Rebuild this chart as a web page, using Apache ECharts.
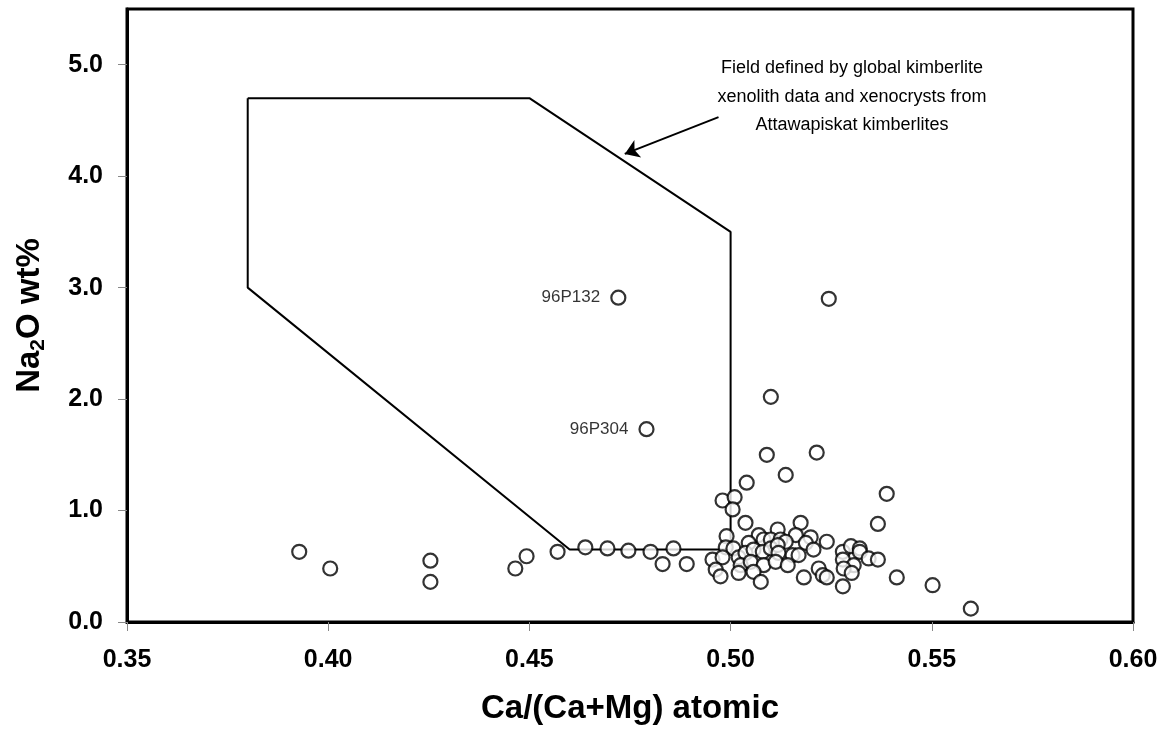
<!DOCTYPE html>
<html>
<head>
<meta charset="utf-8">
<script src="https://cdn.jsdelivr.net/npm/echarts@6/dist/echarts.min.js"></script>
<style>
  html, body { margin: 0; padding: 0; background: #fff; }
  #chart { width: 1170px; height: 738px; }
</style>
</head>
<body>
<div id="chart"></div>
<script>
// Ca/(Ca+Mg) atomic vs Na2O wt%
const caRatio = [
  0.3928, 0.4005, 0.4254, 0.4254, 0.4465, 0.4493, 0.4570, 0.4639, 0.4694, 0.4746,
  0.4801, 0.4831, 0.4858, 0.4891, 0.5244, 0.5100, 0.5090, 0.5214, 0.5137, 0.5040,
  0.5388, 0.5366, 0.4980, 0.5010, 0.5005, 0.5413, 0.5502, 0.5597, 0.5037, 0.4990,
  0.5070, 0.5117, 0.5174, 0.5162, 0.5199, 0.5239, 0.4988, 0.5007, 0.5045, 0.5082,
  0.5100, 0.5124, 0.5137, 0.5187, 0.5206, 0.4955, 0.4980, 0.5020, 0.5037, 0.5057,
  0.5080, 0.5100, 0.5117, 0.5119, 0.5154, 0.5169, 0.5025, 0.5050, 0.5082, 0.5112,
  0.5142, 0.4963, 0.4975, 0.5020, 0.5057, 0.5075, 0.5182, 0.5219, 0.5229, 0.5239,
  0.5279, 0.5299, 0.5321, 0.5321, 0.5279, 0.5306, 0.5343, 0.5366, 0.5281, 0.5301,
  0.5279
]
const na2o = [
  0.63, 0.48, 0.55, 0.36, 0.48, 0.59, 0.63, 0.67, 0.66, 0.64,
  0.63, 0.52, 0.66, 0.52, 2.90, 2.02, 1.50, 1.52, 1.32, 1.25,
  1.15, 0.88, 1.09, 1.12, 1.01, 0.40, 0.33, 0.12, 0.89, 0.77,
  0.78, 0.83, 0.89, 0.78, 0.76, 0.72, 0.67, 0.66, 0.71, 0.74,
  0.74, 0.74, 0.72, 0.71, 0.65, 0.56, 0.58, 0.58, 0.62, 0.65,
  0.63, 0.66, 0.69, 0.62, 0.60, 0.60, 0.51, 0.54, 0.51, 0.54,
  0.51, 0.47, 0.41, 0.44, 0.45, 0.36, 0.40, 0.48, 0.42, 0.40,
  0.63, 0.68, 0.66, 0.63, 0.56, 0.51, 0.57, 0.56, 0.48, 0.44,
  0.32
]
// the two named samples
const namedSamples = ['96P132', '96P304']
const namedCa = [0.4721, 0.4791]
const namedNa = [2.91, 1.73]

// kimberlite field outline
const fieldCa = [0.38, 0.45, 0.50, 0.50, 0.46, 0.38, 0.38]
const fieldNa = [4.70, 4.70, 3.50, 0.65, 0.65, 3.00, 4.70]

// arrow from the note to the field edge
const arrowCa = [0.497, 0.4737]
const arrowNa = [4.53, 4.20]

const xTicks = [0.35, 0.40, 0.45, 0.50, 0.55, 0.60]
const yTicks = [0, 1, 2, 3, 4, 5]

const fieldNote = [
  'Field defined by global kimberlite',
  'xenolith data and xenocrysts from',
  'Attawapiskat kimberlites'
]

const font = "'Liberation Sans', Arial, sans-serif"

const chart = echarts.init(document.getElementById('chart'))

const pointStyle = { color: '#fff', borderColor: '#000', borderWidth: 2.2 }

chart.setOption({
  animation: false,
  backgroundColor: '#fff',
  grid: {
    left: 127, right: 37, top: 9, bottom: 116,
    show: true, borderColor: '#000', borderWidth: 3
  },
  xAxis: {
    type: 'value', min: 0.35, max: 0.60, interval: 0.05,
    name: 'Ca/(Ca+Mg) atomic', nameLocation: 'middle', nameGap: 70,
    nameTextStyle: { fontFamily: font, fontWeight: 'bold', fontSize: 33, color: '#000' },
    axisLine: { lineStyle: { color: '#000', width: 3 } },
    axisTick: { show: true, inside: false, length: 9, lineStyle: { color: '#888', width: 1 }, customValues: xTicks },
    axisLabel: {
      customValues: xTicks, margin: 26,
      fontFamily: font, fontWeight: 'bold', fontSize: 25, color: '#000',
      formatter: v => v.toFixed(2)
    },
    splitLine: { show: false }
  },
  yAxis: {
    type: 'value', min: 0, max: 5.5, interval: 1,
    name: '{n|Na}{s|2}{n|O wt%}', nameLocation: 'middle', nameGap: 78, nameRotate: 90,
    nameTextStyle: {
      rich: {
        n: { fontFamily: font, fontWeight: 'bold', fontSize: 33, color: '#000' },
        s: { fontFamily: font, fontWeight: 'bold', fontSize: 21, color: '#000', padding: [18, 0, 0, 0] }
      }
    },
    axisLine: { lineStyle: { color: '#000', width: 3 } },
    axisTick: { show: true, inside: false, length: 9, lineStyle: { color: '#888', width: 1 }, customValues: yTicks },
    axisLabel: {
      customValues: yTicks, margin: 24,
      fontFamily: font, fontWeight: 'bold', fontSize: 25, color: '#000',
      formatter: v => v.toFixed(1)
    },
    splitLine: { show: false }
  },
  graphic: [{
    type: 'text', x: 852, y: 54,
    style: {
      text: fieldNote.join('\n'), textAlign: 'center', textVerticalAlign: 'top',
      font: '18px ' + font, lineHeight: 28.5, fill: '#000'
    }
  }],
  series: [
    {
      type: 'line',
      data: fieldCa.map((c, i) => [c, fieldNa[i]]),
      symbol: 'none',
      lineStyle: { color: '#000', width: 2 },
      z: 1
    },
    {
      type: 'lines',
      coordinateSystem: 'cartesian2d',
      data: [{ coords: arrowCa.map((c, i) => [c, arrowNa[i]]) }],
      symbol: ['none', 'arrow'], symbolSize: 14,
      lineStyle: { color: '#000', width: 2, opacity: 1 },
      z: 2
    },
    {
      type: 'scatter',
      data: caRatio.map((c, i) => [c, na2o[i]]),
      symbol: 'circle', symbolSize: 14,
      itemStyle: pointStyle,
      z: 3
    },
    {
      type: 'scatter',
      data: namedSamples.map((n, i) => ({ name: n, value: [namedCa[i], namedNa[i]] })),
      symbol: 'circle', symbolSize: 14,
      itemStyle: pointStyle,
      label: {
        show: true, position: 'left', distance: 10, formatter: '{b}',
        fontFamily: font, fontSize: 17, color: '#000'
      },
      z: 3
    }
  ]
})
</script>
</body>
</html>
